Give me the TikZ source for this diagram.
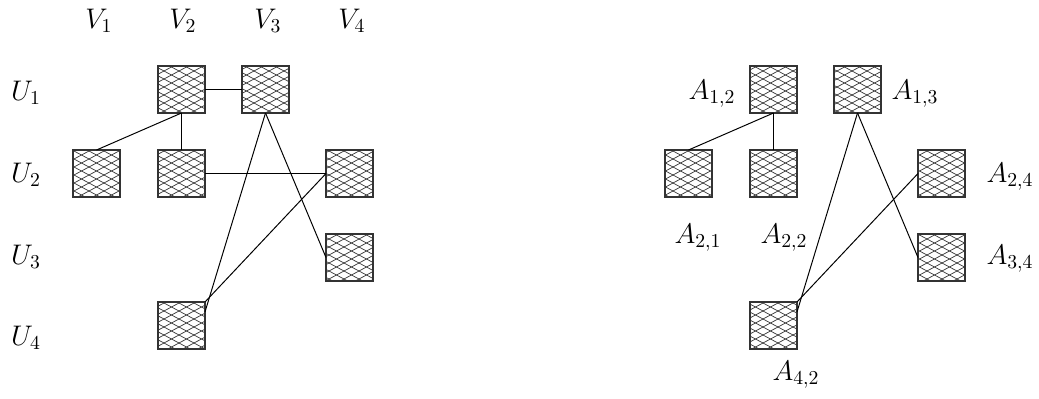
\documentclass[tikz,border=0pt]{standalone}
\usetikzlibrary{patterns,patterns.meta}
\pgfdeclarepattern{
  name=diamondhatch,
  type=uncolored,
  bottom left={\pgfpoint{0pt}{0pt}},
  top right={\pgfpoint{7.6pt}{4.05pt}},
  tile size={\pgfpoint{7.6pt}{4.05pt}},
  code={
    \pgfsetlinewidth{0.35pt}
    \pgfpathmoveto{\pgfpoint{0pt}{0pt}}\pgfpathlineto{\pgfpoint{7.6pt}{4.05pt}}
    \pgfpathmoveto{\pgfpoint{0pt}{4.05pt}}\pgfpathlineto{\pgfpoint{7.6pt}{0pt}}
    \pgfusepath{stroke}
  }
}
\tikzset{
  cell/.style={draw=black!80, line width=0.7pt, pattern=diamondhatch, pattern color=black!80,
    minimum size=0.839cm, inner sep=0pt, outer sep=0pt},
  lab/.style={inner sep=0pt, font=\fontsize{14.6}{17}\selectfont},
  edge/.style={draw=black, line width=0.5pt}
}
\begin{document}
\begin{tikzpicture}[x=0.017857cm, y=-0.017857cm]
\useasboundingbox (0,0) rectangle (1039,398);
% column labels
\node[lab] (v1) at (99,21) {$V_1$};
\node[lab] (v2) at (183,21) {$V_2$};
\node[lab] (v3) at (268,21) {$V_3$};
\node[lab] (v4) at (352,21) {$V_4$};
% row labels
\node[lab] (u1) at (26,93) {$U_1$};
\node[lab] (u2) at (26,175) {$U_2$};
\node[lab] (u3) at (26,257) {$U_3$};
\node[lab] (u4) at (26,338) {$U_4$};
% left cells
\node[cell] (u1v2) at (181.5,89.5) {};
\node[cell] (u1v3) at (265.5,89.5) {};
\node[cell] (u2v1) at (96.5,173.5) {};
\node[cell] (u2v2) at (181.5,173.5) {};
\node[cell] (u2v4) at (349.5,173.5) {};
\node[cell] (u3v4) at (349.5,257.5) {};
\node[cell] (u4v2) at (181.5,325.5) {};
% left edges
\draw[edge] (u1v2.east) -- (u1v3.west);
\draw[edge] (u1v2.south) -- (u2v1.north);
\draw[edge] (u1v2.south) -- (u2v2.north);
\draw[edge] (u2v2.east) -- (u2v4.west);
\draw[edge] (u1v3.south) -- (u4v2.30);
\draw[edge] (u1v3.south) -- (u3v4.west);
\draw[edge] (u2v4.west) -- (u4v2.north east);
% right cells
\node[cell] (a12) at (773.5,89.5) {};
\node[cell] (a13) at (857.5,89.5) {};
\node[cell] (a21) at (688.5,173.5) {};
\node[cell] (a22) at (773.5,173.5) {};
\node[cell] (a24) at (941.5,173.5) {};
\node[cell] (a34) at (941.5,257.5) {};
\node[cell] (a42) at (773.5,325.5) {};
% right labels
\node[lab] (la12) at (712,94) {$A_{1,2}$};
\node[lab] (la13) at (915,94) {$A_{1,3}$};
\node[lab] (la21) at (698,238) {$A_{2,1}$};
\node[lab] (la22) at (784,238) {$A_{2,2}$};
\node[lab] (la24) at (1010,177) {$A_{2,4}$};
\node[lab] (la34) at (1010,259) {$A_{3,4}$};
\node[lab] (la42) at (796,375) {$A_{4,2}$};
% right edges
\draw[edge] (a12.south) -- (a21.north);
\draw[edge] (a12.south) -- (a22.north);
\draw[edge] (a13.south) -- (a42.30);
\draw[edge] (a13.south) -- (a34.west);
\draw[edge] (a24.west) -- (a42.north east);
\end{tikzpicture}
\end{document}
